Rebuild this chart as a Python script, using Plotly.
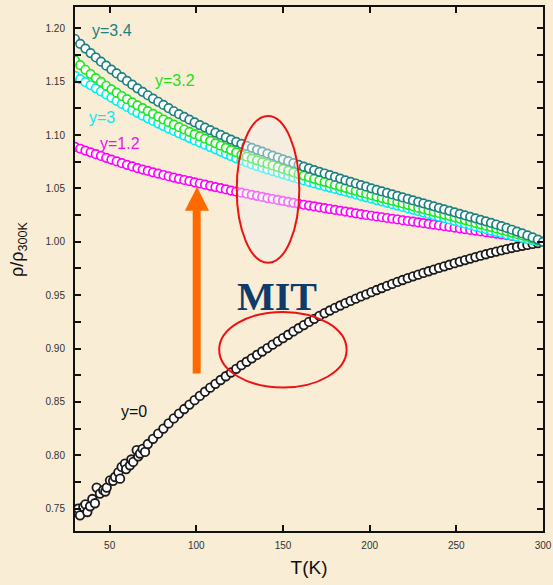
import plotly.graph_objects as go

# ---------------- data ----------------
T_grid = [30, 33, 36, 39, 42, 45, 48, 51, 54, 57,
          60, 63, 66, 69, 72, 75, 78, 81, 84, 87,
          90, 93, 96, 99, 102, 105, 108, 111, 114, 117,
          120, 123, 126, 129, 132, 135, 138, 141, 144, 147,
          150, 153, 156, 159, 162, 165, 168, 171, 174, 177,
          180, 183, 186, 189, 192, 195, 198, 201, 204, 207,
          210, 213, 216, 219, 222, 225, 228, 231, 234, 237,
          240, 243, 246, 249, 252, 255, 258, 261, 264, 267,
          270, 273, 276, 279, 282, 285, 288, 291, 294, 297,
          300]

rho_y34 = [1.1900, 1.1855, 1.1810, 1.1768, 1.1727, 1.1688, 1.1650, 1.1614, 1.1578, 1.1542,
           1.1507, 1.1472, 1.1438, 1.1405, 1.1373, 1.1342, 1.1312, 1.1282, 1.1252, 1.1223,
           1.1196, 1.1170, 1.1144, 1.1119, 1.1094, 1.1070, 1.1046, 1.1023, 1.1001, 1.0979,
           1.0958, 1.0937, 1.0917, 1.0898, 1.0880, 1.0862, 1.0844, 1.0826, 1.0808, 1.0790,
           1.0772, 1.0755, 1.0738, 1.0721, 1.0704, 1.0688, 1.0672, 1.0656, 1.0640, 1.0624,
           1.0608, 1.0592, 1.0576, 1.0561, 1.0546, 1.0531, 1.0516, 1.0501, 1.0486, 1.0472,
           1.0458, 1.0444, 1.0430, 1.0416, 1.0402, 1.0388, 1.0374, 1.0360, 1.0346, 1.0332,
           1.0318, 1.0304, 1.0290, 1.0276, 1.0262, 1.0248, 1.0234, 1.0220, 1.0206, 1.0192,
           1.0177, 1.0162, 1.0146, 1.0130, 1.0113, 1.0096, 1.0078, 1.0060, 1.0041, 1.0021,
           1.0000]

rho_y32 = [1.1700, 1.1655, 1.1612, 1.1572, 1.1534, 1.1498, 1.1462, 1.1429, 1.1397, 1.1366,
           1.1336, 1.1307, 1.1279, 1.1252, 1.1225, 1.1198, 1.1172, 1.1146, 1.1121, 1.1097,
           1.1074, 1.1052, 1.1030, 1.1008, 1.0987, 1.0966, 1.0945, 1.0923, 1.0901, 1.0880,
           1.0859, 1.0838, 1.0815, 1.0797, 1.0780, 1.0763, 1.0747, 1.0731, 1.0715, 1.0699,
           1.0683, 1.0667, 1.0651, 1.0635, 1.0620, 1.0605, 1.0590, 1.0576, 1.0562, 1.0548,
           1.0534, 1.0520, 1.0506, 1.0492, 1.0478, 1.0464, 1.0450, 1.0437, 1.0424, 1.0411,
           1.0398, 1.0385, 1.0372, 1.0359, 1.0346, 1.0333, 1.0320, 1.0307, 1.0294, 1.0281,
           1.0268, 1.0255, 1.0242, 1.0229, 1.0216, 1.0203, 1.0190, 1.0177, 1.0164, 1.0151,
           1.0138, 1.0125, 1.0112, 1.0099, 1.0086, 1.0073, 1.0059, 1.0045, 1.0030, 1.0015,
           1.0000]

rho_y30 = [1.1555, 1.1525, 1.1496, 1.1467, 1.1438, 1.1409, 1.1380, 1.1350, 1.1321, 1.1292,
           1.1263, 1.1235, 1.1208, 1.1182, 1.1157, 1.1132, 1.1108, 1.1084, 1.1061, 1.1038,
           1.1016, 1.0994, 1.0972, 1.0950, 1.0929, 1.0908, 1.0887, 1.0866, 1.0845, 1.0824,
           1.0803, 1.0782, 1.0762, 1.0743, 1.0725, 1.0708, 1.0692, 1.0677, 1.0662, 1.0647,
           1.0632, 1.0617, 1.0603, 1.0589, 1.0575, 1.0561, 1.0547, 1.0534, 1.0521, 1.0508,
           1.0495, 1.0482, 1.0469, 1.0456, 1.0443, 1.0430, 1.0417, 1.0404, 1.0391, 1.0378,
           1.0365, 1.0352, 1.0339, 1.0326, 1.0313, 1.0300, 1.0287, 1.0274, 1.0261, 1.0248,
           1.0235, 1.0222, 1.0209, 1.0196, 1.0183, 1.0170, 1.0157, 1.0144, 1.0131, 1.0118,
           1.0105, 1.0093, 1.0081, 1.0069, 1.0058, 1.0047, 1.0036, 1.0026, 1.0016, 1.0007,
           1.0000]

rho_y12 = [1.0890, 1.0872, 1.0855, 1.0838, 1.0821, 1.0804, 1.0787, 1.0770, 1.0753, 1.0737,
           1.0721, 1.0706, 1.0691, 1.0677, 1.0664, 1.0651, 1.0638, 1.0626, 1.0614, 1.0602,
           1.0590, 1.0579, 1.0568, 1.0557, 1.0546, 1.0535, 1.0524, 1.0513, 1.0502, 1.0491,
           1.0480, 1.0470, 1.0460, 1.0450, 1.0440, 1.0430, 1.0420, 1.0410, 1.0401, 1.0392,
           1.0383, 1.0374, 1.0365, 1.0356, 1.0347, 1.0339, 1.0331, 1.0323, 1.0315, 1.0307,
           1.0299, 1.0291, 1.0283, 1.0275, 1.0267, 1.0259, 1.0251, 1.0244, 1.0237, 1.0230,
           1.0223, 1.0216, 1.0209, 1.0202, 1.0195, 1.0188, 1.0181, 1.0174, 1.0167, 1.0160,
           1.0153, 1.0146, 1.0139, 1.0132, 1.0125, 1.0118, 1.0111, 1.0104, 1.0097, 1.0090,
           1.0083, 1.0076, 1.0069, 1.0062, 1.0055, 1.0047, 1.0039, 1.0030, 1.0020, 1.0010,
           1.0000]

# y=0 : noisy low-temperature part, then the smooth part
T_y0 = [31.9, 32.9, 34.8, 36.0, 37.1, 38.7, 40.0, 41.5, 42.5, 44.4,
        46.3, 47.5, 48.3, 50.2, 52.0, 53.1, 55.0, 56.0, 56.9, 58.8,
        59.5, 61.7, 62.5, 63.6, 65.6, 66.5, 67.5, 69.0, 70.4,
        72, 75, 78, 81, 84, 87, 90, 93, 96, 99,
        102, 105, 108, 111, 114, 117, 120, 123, 126, 129,
        132, 135, 138, 141, 144, 147, 150, 153, 156, 159,
        162, 165, 168, 171, 174, 177, 180, 183, 186, 189,
        192, 195, 198, 201, 204, 207, 210, 213, 216, 219,
        222, 225, 228, 231, 234, 237, 240, 243, 246, 249,
        252, 255, 258, 261, 264, 267, 270, 273, 276, 279,
        282, 285, 288, 291, 294, 297, 300]
rho_y0 = [0.7500, 0.7437, 0.7515, 0.7540, 0.7468, 0.7522, 0.7590, 0.7550, 0.7697, 0.7641,
          0.7672, 0.7660, 0.7697, 0.7765, 0.7760, 0.7796, 0.7840, 0.7780, 0.7890, 0.7922,
          0.7870, 0.7906, 0.7960, 0.7937, 0.8047, 0.7990, 0.8016, 0.8060, 0.8031,
          0.8105, 0.8154, 0.8202, 0.8250, 0.8298, 0.8345, 0.8390, 0.8433, 0.8475, 0.8516,
          0.8556, 0.8595, 0.8633, 0.8669, 0.8705, 0.8740, 0.8775, 0.8810, 0.8844, 0.8876,
          0.8908, 0.8940, 0.8972, 0.9004, 0.9036, 0.9067, 0.9098, 0.9129, 0.9160, 0.9190,
          0.9220, 0.9249, 0.9278, 0.9305, 0.9331, 0.9356, 0.9380, 0.9403, 0.9425, 0.9446,
          0.9467, 0.9488, 0.9508, 0.9528, 0.9548, 0.9567, 0.9586, 0.9605, 0.9624, 0.9642,
          0.9659, 0.9676, 0.9692, 0.9708, 0.9724, 0.9740, 0.9755, 0.9770, 0.9785, 0.9800,
          0.9815, 0.9829, 0.9843, 0.9857, 0.9870, 0.9883, 0.9896, 0.9908, 0.9920, 0.9931,
          0.9942, 0.9952, 0.9962, 0.9971, 0.9980, 0.9988, 1.0000]

x_ticks = [50, 100, 150, 200, 250, 300]
y_ticks = [0.75, 0.80, 0.85, 0.90, 0.95, 1.00, 1.05, 1.10, 1.15, 1.20]

# ---------------- figure ----------------
BG = "#f9edd5"
FONT = "Liberation Sans, Arial, sans-serif"

fig = go.Figure()

def add_series(x, y, color, size=8.5, lw=1.7):
    fig.add_trace(go.Scatter(
        x=x, y=y, mode="markers", showlegend=False, hoverinfo="skip",
        marker=dict(symbol="circle", size=size, color="white",
                    line=dict(color=color, width=lw))))

add_series(T_y0, rho_y0, "#1a1a1a", size=8.5, lw=1.8)
add_series(T_grid, rho_y12, "#ff00ff")
add_series(T_grid, rho_y30, "#00f0f0")
add_series(T_grid, rho_y32, "#1ee81e")
add_series(T_grid, rho_y34, "#1e8080")

labels = [
    ("y=3.4", 51.3, 1.1984, "#1e8080"),
    ("y=3.2", 87.7, 1.1509, "#22dd22"),
    ("y=3", 45.4, 1.1166, "#11e6ee"),
    ("y=1.2", 56.0, 1.0922, "#ee11ee"),
    ("y=0", 64.0, 0.8406, "#111111"),
]
for txt, xx, yy, col in labels:
    fig.add_annotation(x=xx, y=yy, text=txt, showarrow=False,
                       font=dict(family=FONT, size=16, color=col),
                       xanchor="center", yanchor="middle")

fig.add_annotation(x=146.8, y=0.949, text="<b>MIT</b>", showarrow=False,
                   font=dict(family="Liberation Serif, Times New Roman, serif",
                             size=40, color="#0f3a6a"),
                   xanchor="center", yanchor="middle")

# y-axis title
fig.add_annotation(xref="paper", yref="paper", x=-0.122, y=0.538,
                   text="ρ/ρ<sub>300K</sub>", showarrow=False, textangle=-90,
                   font=dict(family=FONT, size=18, color="#111111"),
                   xanchor="center", yanchor="middle")

# ellipses
fig.add_shape(type="circle", xref="x", yref="y", x0=123.3, x1=159.4, y0=0.9803, y1=1.1178,
              line=dict(color="#ee1111", width=2), fillcolor="rgba(238,238,238,0.45)",
              layer="above")
fig.add_shape(type="circle", xref="x", yref="y", x0=113.2, x1=186.7, y0=0.8634, y1=0.9343,
              line=dict(color="#ee1111", width=2), fillcolor="rgba(0,0,0,0)",
              layer="above")

# orange arrow
fig.add_shape(type="rect", xref="x", yref="y", x0=97.9, x1=102.5, y0=0.8766, y1=1.0295,
              line=dict(width=0), fillcolor="#ff6a00", layer="above")
fig.add_shape(type="path", xref="x", yref="y",
              path="M 93.4,1.029 L 107.3,1.029 L 100.4,1.0515 Z",
              line=dict(width=0), fillcolor="#ff6a00", layer="above")

fig.update_layout(
    width=553, height=585,
    margin=dict(l=75, r=10, t=7, b=54, autoexpand=False),
    paper_bgcolor=BG, plot_bgcolor=BG,
    font=dict(family=FONT),
    xaxis=dict(range=[30, 300], tickvals=x_ticks, ticks="inside", ticklen=6,
               tickwidth=1.5, tickcolor="#111", showline=True, linewidth=2,
               linecolor="#111", mirror="allticks", showgrid=False, zeroline=False,
               automargin=False,
               tickfont=dict(family=FONT, size=10, color="#333"),
               ticklabelstandoff=4,
               title=dict(text="T(K)", font=dict(family=FONT, size=19, color="#111"),
                          standoff=11)),
    yaxis=dict(range=[0.729, 1.22], tickvals=y_ticks, tickformat=".2f",
               ticks="inside", ticklen=6, tickwidth=1.5, tickcolor="#111",
               showline=True, linewidth=2, linecolor="#111", mirror="allticks",
               showgrid=False, zeroline=False, automargin=False,
               minor=dict(ticks="inside", ticklen=6, tickwidth=1.5, tickcolor="#111",
                          dtick=0.025, tick0=0.725, showgrid=False),
               tickfont=dict(family=FONT, size=10, color="#333"),
               ticklabelstandoff=6),
)

fig.write_html(
    "out.html",
    config={"displayModeBar": False},
    post_script="document.body.style.margin='0';document.body.style.overflow='hidden';"
                "document.body.style.background='" + BG + "';",
)
